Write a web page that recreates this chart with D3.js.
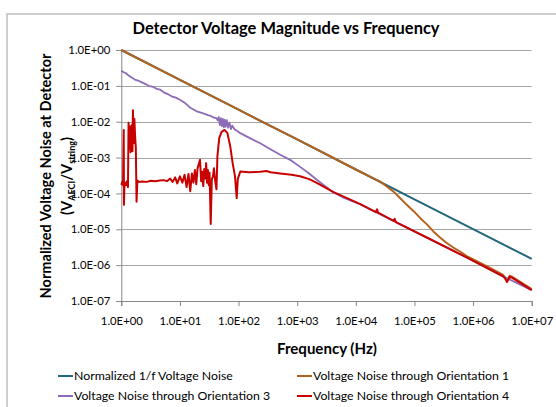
<!DOCTYPE html>
<html><head><meta charset="utf-8">
<script src="https://cdn.jsdelivr.net/npm/d3@7"></script>
<style>
body{margin:0;background:#fff;}
svg{display:block;font-family:Lato,"Open Sans",sans-serif;}
</style></head>
<body>
<svg id="c" width="556" height="407"></svg>
<script>
// ---------- DATA ----------
const chartTitle = "Detector Voltage Magnitude vs Frequency";
const xTitle = "Frequency (Hz)";
const xTicks = [1, 10, 100, 1e3, 1e4, 1e5, 1e6, 1e7];
const xTickLabels = ["1.0E+00","1.0E+01","1.0E+02","1.0E+03","1.0E+04","1.0E+05","1.0E+06","1.0E+07"];
const yTicks = [1, 1e-1, 1e-2, 1e-3, 1e-4, 1e-5, 1e-6, 1e-7];
const yTickLabels = ["1.0E+00","1.0E-01","1.0E-02","1.0E-03","1.0E-04","1.0E-05","1.0E-06","1.0E-07"];
const seriesNames = ["Normalized 1/f Voltage Noise","Voltage Noise through Orientation 1","Voltage Noise through Orientation 3","Voltage Noise through Orientation 4"];

// Normalized 1/f voltage noise
const freqNorm = [1, 10, 100, 1e3, 1e4, 1e5, 1e6, 1e7];
const valNorm  = [1.0, 1.47e-1, 2.16e-2, 3.2e-3, 4.65e-4, 6.85e-5, 1.01e-5, 1.5e-6];

// Orientation 1
const freqO1 = [1, 10, 100, 1e3, 1e4, 2.0e4, 2.6e4, 3.2e4, 4.4e4, 5.5e4, 7.4e4, 9.7e4, 1.26e5, 1.65e5, 2.1e5, 2.7e5, 3.5e5, 4.6e5, 6.0e5, 7.8e5, 1.74e6, 3.2e6, 3.5e6, 3.8e6, 4.2e6, 4.6e6, 1e7];
const valO1  = [1.0, 1.47e-1, 2.16e-2, 3.2e-3, 4.65e-4, 2.64e-4, 2.14e-4, 1.66e-4, 1.12e-4, 7.8e-5, 4.8e-5, 3.2e-5, 2.04e-5, 1.35e-5, 8.7e-6, 6.0e-6, 4.2e-6, 3.1e-6, 2.4e-6, 1.78e-6, 9.3e-7, 5.4e-7, 4.6e-7, 3.7e-7, 5.1e-7, 4.8e-7, 2.15e-7];

// Orientation 3
const freqO3 = [1.0, 1.1, 1.2, 1.35, 1.5, 1.7, 2.0, 2.25, 2.6, 3.0, 3.5, 4.0, 4.6, 5.3, 6.2, 7.2, 8.5, 10, 12, 14.8, 17, 20, 25, 30, 33.5, 38, 42, 44, 46, 48, 50, 52, 54, 56, 58, 60, 63, 66, 70, 74, 78, 85, 95, 107, 150, 234, 350, 513, 800, 1122, 1600, 2160, 3000, 4140, 6000, 1.17e4, 4.4e4, 1.62e5, 7.76e5, 3.24e6, 1e7];
const valO3  = [0.263, 0.24, 0.225, 0.19, 0.17, 0.15, 0.137, 0.125, 0.112, 0.098, 0.093, 0.083, 0.078, 0.066, 0.059, 0.051, 0.047, 0.041, 0.034, 0.025, 0.022, 0.019, 0.017, 0.0152, 0.0145, 0.013, 0.0125, 0.011, 0.0135, 0.008, 0.0125, 0.0075, 0.012, 0.007, 0.0115, 0.0072, 0.011, 0.0068, 0.0095, 0.0062, 0.0078, 0.0062, 0.0055, 0.0048, 0.0036, 0.0025, 0.0017, 0.0012, 0.00082, 0.00055, 0.00036, 0.00024, 0.00016, 0.000107, 7.8e-5, 5.0e-5, 1.72e-5, 5.9e-6, 1.64e-6, 4.9e-7, 2.0e-7];

// Orientation 4
const freqO4 = [1.00, 1.04, 1.07, 1.10, 1.11, 1.13, 1.16, 1.20, 1.25, 1.30, 1.33, 1.36, 1.40, 1.44, 1.50, 1.55, 1.58, 1.62, 1.67, 1.72, 1.77, 1.82, 1.88, 2.0, 2.3, 2.7, 3.2, 3.8, 4.5, 5.3, 6.0, 6.8, 7.5, 8.3, 9.0, 10, 11, 12, 13, 14, 15, 16, 17, 18, 19, 20, 22, 23, 24, 25, 26, 27, 28, 29, 30, 31, 32, 33.5, 35, 36.6, 38, 40, 42, 43.6, 46.8, 51.3, 57.5, 64.6, 72.4, 79.4, 87, 93, 97, 107, 150, 234, 300, 350, 513, 800, 1122, 1600, 2200, 4100, 1.17e4, 2.2e4, 2.3e4, 2.4e4, 4.4e4, 4.6e4, 4.8e4, 1.62e5, 7.76e5, 3.24e6, 3.5e6, 3.8e6, 4.2e6, 4.6e6, 1e7];
const valO4  = [1.74e-4, 2.1e-4, 1.7e-4, 5.9e-3, 4.8e-5, 1.6e-4, 2.0e-4, 1.7e-4, 2.2e-4, 1.5e-4, 9.3e-3, 1.8e-3, 7.4e-3, 1.4e-3, 8.0e-3, 1.5e-3, 2.1e-2, 2.5e-3, 1.2e-2, 3.9e-3, 1.8e-3, 5.9e-5, 2.3e-4, 2.1e-4, 2.15e-4, 2.1e-4, 2.25e-4, 2.2e-4, 2.3e-4, 2.35e-4, 2.2e-4, 2.6e-4, 2.1e-4, 2.8e-4, 1.9e-4, 3.0e-4, 2.0e-4, 3.3e-4, 1.5e-4, 3.5e-4, 1.15e-4, 3.6e-4, 2.0e-4, 4.5e-4, 1.8e-4, 5.0e-4, 8.7e-4, 2.2e-4, 4.0e-4, 1.6e-4, 4.8e-4, 2.6e-4, 7.0e-4, 2.0e-4, 4.5e-4, 1.7e-4, 3.8e-4, 1.4e-5, 2.5e-4, 3.0e-4, 5.0e-4, 2.2e-4, 1.3e-4, 1.1e-3, 3.5e-3, 5.2e-3, 5.9e-3, 4.8e-3, 2.0e-3, 6.9e-4, 3.0e-4, 7.4e-5, 2.5e-4, 4.1e-4, 3.9e-4, 4.0e-4, 4.2e-4, 3.9e-4, 3.6e-4, 3.3e-4, 3.0e-4, 2.5e-4, 1.95e-4, 1.1e-4, 5.1e-5, 3.0e-5, 3.6e-5, 2.9e-5, 1.72e-5, 1.95e-5, 1.58e-5, 5.9e-6, 1.64e-6, 4.9e-7, 4.3e-7, 3.4e-7, 4.7e-7, 4.5e-7, 2.0e-7];

const colors = ["#23687A", "#B4631E", "#8C6BB8", "#C80000"];

// ---------- CHART ----------
const svg = d3.select("#c");
const plot = {l: 121.3, r: 531.7, t: 50, b: 301};

// outer frame
svg.append("rect").attr("x", 7).attr("y", 14).attr("width", 560).attr("height", 420)
  .attr("fill", "#fff").attr("stroke", "#BFBFBF").attr("stroke-width", 1.5);

const x = d3.scaleLog().domain([1, 1e7]).range([plot.l, plot.r]);
const y = d3.scaleLog().domain([1e-7, 1]).range([plot.b, plot.t]);

function fit(sel, target) {
  const len = sel.node().getComputedTextLength();
  const fs = parseFloat(sel.attr("font-size"));
  sel.attr("font-size", (fs * target / len).toFixed(2));
}

// gridlines
svg.append("g").selectAll("line").data(yTicks.slice(0, -1)).join("line")
  .attr("x1", plot.l).attr("x2", plot.r)
  .attr("y1", d => Math.round(y(d)) + 0.5).attr("y2", d => Math.round(y(d)) + 0.5)
  .attr("stroke", "#A6A6A6").attr("stroke-width", 1);

// axes
const yAxis = svg.append("g").attr("transform", `translate(${plot.l},0)`)
  .call(d3.axisLeft(y).tickValues(yTicks).tickFormat((d, i) => yTickLabels[i]).tickSize(5).tickPadding(6));
const xAxis = svg.append("g").attr("transform", `translate(0,${plot.b})`)
  .call(d3.axisBottom(x).tickValues(xTicks).tickFormat((d, i) => xTickLabels[i]).tickSize(5).tickPadding(11));
[yAxis, xAxis].forEach(a => {
  a.select(".domain").attr("stroke", "#868686").attr("stroke-width", 1);
  a.selectAll(".tick line").attr("stroke", "#868686");
  a.selectAll("text").attr("fill", "#000").attr("font-family", "Lato, sans-serif").attr("font-size", 12);
});
{
  const t = yAxis.select(".tick text");
  const fs = 12 * 42 / t.node().getComputedTextLength();
  yAxis.selectAll("text").attr("font-size", fs);
  xAxis.selectAll("text").attr("font-size", fs);
}

// lines
const line = d3.line().x(d => x(d[0])).y(d => y(d[1]));
const series = [
  d3.zip(freqNorm, valNorm),
  d3.zip(freqO1, valO1),
  d3.zip(freqO3, valO3),
  d3.zip(freqO4, valO4)
];
const widths = [2, 2, 1.8, 2];
series.forEach((s, i) => {
  svg.append("path").datum(s).attr("d", line).attr("fill", "none")
    .attr("stroke", colors[i]).attr("stroke-width", widths[i]).attr("stroke-linejoin", "round");
});

// title
const title = svg.append("text").attr("x", 286).attr("y", 34).attr("text-anchor", "middle")
  .attr("font-weight", "bold").attr("font-size", 18).text(chartTitle);
fit(title, 307);

// x title
const xt = svg.append("text").attr("x", 327).attr("y", 354).attr("text-anchor", "middle")
  .attr("font-weight", "bold").attr("font-size", 14).text(xTitle);
fit(xt, 100);

// y title
const yt1 = svg.append("text").attr("transform", "translate(51,176) rotate(-90)")
  .attr("text-anchor", "middle").attr("font-weight", "bold").attr("font-size", 13)
  .text("Normalized Voltage Noise at Detector");
fit(yt1, 245);
const fsY = parseFloat(yt1.attr("font-size"));
const yt2 = svg.append("text").attr("transform", "translate(72,176) rotate(-90)")
  .attr("text-anchor", "middle").attr("font-weight", "bold").attr("font-size", fsY);
yt2.append("tspan").text("(V");
yt2.append("tspan").attr("font-size", fsY * 0.62).attr("dy", 3).text("AFCI");
yt2.append("tspan").attr("dy", -3).text("/V");
yt2.append("tspan").attr("font-size", fsY * 0.62).attr("dy", 3).text("string");
yt2.append("tspan").attr("dy", -3).text(")");

// legend
const legPos = [[58, 376], [297, 376], [58, 396], [297, 396]];
const leg = svg.append("g");
seriesNames.forEach((n, i) => {
  const [lx, ly] = legPos[i];
  leg.append("line").attr("x1", lx).attr("x2", lx + 15).attr("y1", ly).attr("y2", ly)
    .attr("stroke", colors[i]).attr("stroke-width", 2);
  leg.append("text").attr("class", "lt").attr("x", lx + 16).attr("y", ly + 4)
    .attr("font-size", 12).attr("fill", "#000").text(n);
});
{
  const t = leg.select(".lt");
  const fs = 12 * 159 / t.node().getComputedTextLength();
  leg.selectAll(".lt").attr("font-size", fs);
}
</script>
</body></html>
